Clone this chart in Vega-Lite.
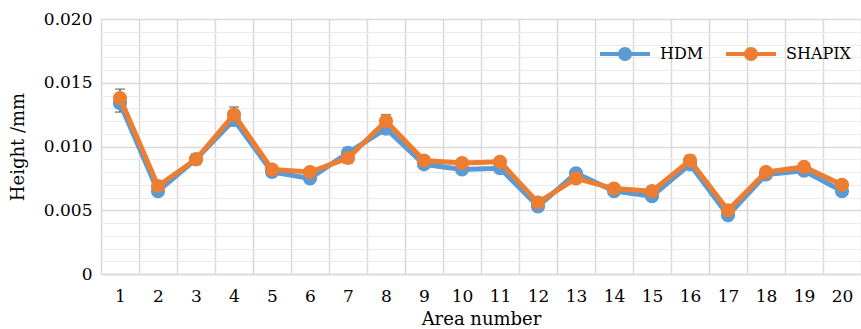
{
  "$schema": "https://vega.github.io/schema/vega-lite/v6.json",
  "width": 760,
  "height": 255,
  "autosize": {"type": "none"},
  "padding": {"left": 101, "top": 19, "right": 0, "bottom": 55},
  "background": "white",
  "config": {
    "view": {"stroke": null},
    "font": "DejaVu Serif"
  },
  "data": {
    "values": [
      {"area": 1, "series": "HDM", "value": 0.0134, "err": 0.0007},
      {"area": 2, "series": "HDM", "value": 0.0065, "err": 0.0003},
      {"area": 3, "series": "HDM", "value": 0.0090, "err": 0.0004},
      {"area": 4, "series": "HDM", "value": 0.0121, "err": 0.0005},
      {"area": 5, "series": "HDM", "value": 0.0080, "err": 0.0003},
      {"area": 6, "series": "HDM", "value": 0.0075, "err": 0.0003},
      {"area": 7, "series": "HDM", "value": 0.0095, "err": 0.0004},
      {"area": 8, "series": "HDM", "value": 0.0114, "err": 0.0004},
      {"area": 9, "series": "HDM", "value": 0.0086, "err": 0.0003},
      {"area": 10, "series": "HDM", "value": 0.0082, "err": 0.0003},
      {"area": 11, "series": "HDM", "value": 0.0083, "err": 0.0003},
      {"area": 12, "series": "HDM", "value": 0.0053, "err": 0.0003},
      {"area": 13, "series": "HDM", "value": 0.0079, "err": 0.0003},
      {"area": 14, "series": "HDM", "value": 0.0065, "err": 0.0002},
      {"area": 15, "series": "HDM", "value": 0.0061, "err": 0.0003},
      {"area": 16, "series": "HDM", "value": 0.0086, "err": 0.0003},
      {"area": 17, "series": "HDM", "value": 0.0046, "err": 0.0003},
      {"area": 18, "series": "HDM", "value": 0.0078, "err": 0.0003},
      {"area": 19, "series": "HDM", "value": 0.0081, "err": 0.0003},
      {"area": 20, "series": "HDM", "value": 0.0065, "err": 0.0003},
      {"area": 1, "series": "SHAPIX", "value": 0.0138, "err": 0.0007},
      {"area": 2, "series": "SHAPIX", "value": 0.0069, "err": 0.0003},
      {"area": 3, "series": "SHAPIX", "value": 0.0090, "err": 0.0004},
      {"area": 4, "series": "SHAPIX", "value": 0.0125, "err": 0.0006},
      {"area": 5, "series": "SHAPIX", "value": 0.0082, "err": 0.0003},
      {"area": 6, "series": "SHAPIX", "value": 0.0080, "err": 0.0003},
      {"area": 7, "series": "SHAPIX", "value": 0.0091, "err": 0.0004},
      {"area": 8, "series": "SHAPIX", "value": 0.0120, "err": 0.0005},
      {"area": 9, "series": "SHAPIX", "value": 0.0089, "err": 0.0003},
      {"area": 10, "series": "SHAPIX", "value": 0.0087, "err": 0.0003},
      {"area": 11, "series": "SHAPIX", "value": 0.0088, "err": 0.0003},
      {"area": 12, "series": "SHAPIX", "value": 0.0056, "err": 0.0003},
      {"area": 13, "series": "SHAPIX", "value": 0.0075, "err": 0.0003},
      {"area": 14, "series": "SHAPIX", "value": 0.0067, "err": 0.0002},
      {"area": 15, "series": "SHAPIX", "value": 0.0065, "err": 0.0003},
      {"area": 16, "series": "SHAPIX", "value": 0.0089, "err": 0.0004},
      {"area": 17, "series": "SHAPIX", "value": 0.0050, "err": 0.0003},
      {"area": 18, "series": "SHAPIX", "value": 0.0080, "err": 0.0003},
      {"area": 19, "series": "SHAPIX", "value": 0.0084, "err": 0.0003},
      {"area": 20, "series": "SHAPIX", "value": 0.0070, "err": 0.0003}
    ]
  },
  "encoding": {
    "x": {
      "field": "area",
      "type": "ordinal",
      "scale": {"type": "band", "paddingInner": 0, "paddingOuter": 0},
      "axis": {
        "title": "Area number",
        "titleFont": "DejaVu Serif",
        "titleFontSize": 18,
        "titleFontWeight": "normal",
        "titleColor": "black",
        "titlePadding": 6,
        "labelFont": "DejaVu Serif",
        "labelFontSize": 17,
        "labelColor": "black",
        "labelAngle": 0,
        "labelPadding": 14,
        "ticks": false,
        "tickSize": 0,
        "tickBand": "extent",
        "grid": true,
        "gridColor": "#d9d9d9",
        "gridWidth": 1.5,
        "domain": true,
        "domainColor": "#d9d9d9",
        "domainWidth": 1.5
      }
    },
    "y": {
      "field": "value",
      "type": "quantitative",
      "scale": {"domain": [0, 0.02], "nice": false, "zero": true},
      "axis": {
        "title": "Height /mm",
        "titleFont": "DejaVu Serif",
        "titleFontSize": 18,
        "titleFontWeight": "normal",
        "titleColor": "black",
        "titlePadding": 16,
        "labelFont": "DejaVu Serif",
        "labelFontSize": 17,
        "labelColor": "black",
        "labelPadding": 9,
        "ticks": false,
        "tickSize": 0,
        "domain": false,
        "values": [0, 0.001, 0.002, 0.003, 0.004, 0.005, 0.006, 0.007, 0.008, 0.009, 0.01, 0.011, 0.012, 0.013, 0.014, 0.015, 0.016, 0.017, 0.018, 0.019, 0.02],
        "labelExpr": "round(datum.value*1000) % 5 == 0 ? (datum.value == 0 ? '0' : format(datum.value, '.3f')) : ''",
        "grid": true,
        "gridColor": {"condition": {"test": "round(datum.value*1000) % 5 == 0", "value": "#d9d9d9"}, "value": "#ebebeb"},
        "gridWidth": {"condition": {"test": "round(datum.value*1000) % 5 == 0", "value": 1.5}, "value": 1.2}
      }
    }
  },
  "layer": [
    {
      "mark": {"type": "errorbar", "ticks": {"size": 10, "color": "#595959", "thickness": 1.5}, "color": "#595959", "thickness": 1.5},
      "encoding": {
        "y": {"field": "value", "type": "quantitative"},
        "yError": {"field": "err"}
      }
    },
    {
      "transform": [{"filter": "datum.series == 'HDM'"}],
      "mark": {"type": "line", "strokeWidth": 5},
      "encoding": {
        "color": {"field": "series", "type": "nominal"}
      }
    },
    {
      "transform": [{"filter": "datum.series == 'HDM'"}],
      "mark": {"type": "point", "filled": true, "size": 200, "opacity": 1},
      "encoding": {
        "color": {"field": "series", "type": "nominal"}
      }
    },
    {
      "transform": [{"filter": "datum.series == 'SHAPIX'"}],
      "mark": {"type": "line", "strokeWidth": 5},
      "encoding": {
        "color": {"field": "series", "type": "nominal"}
      }
    },
    {
      "transform": [{"filter": "datum.series == 'SHAPIX'"}],
      "mark": {"type": "point", "filled": true, "size": 200, "opacity": 1},
      "encoding": {
        "color": {
          "field": "series",
          "type": "nominal",
          "scale": {"domain": ["HDM", "SHAPIX"], "range": ["#5b9bd5", "#ed7d31"]},
          "legend": {
            "orient": "none",
            "legendX": 497,
            "legendY": 8,
            "direction": "horizontal",
            "title": null,
            "labelFont": "DejaVu Serif",
            "labelFontSize": 16,
            "labelColor": "black",
            "labelOffset": 8,
            "columnPadding": 14,
            "gridAlign": "none",
            "symbolSize": 2500,
            "symbolStrokeWidth": 4,
            "symbolType": "M-1,0L1,0M0.2,0A0.2,0.2,0,1,1,-0.2,0A0.2,0.2,0,1,1,0.2,0Z",
            "encode": {
              "symbols": {
                "update": {
                  "shape": {"value": "M-1,0L1,0M0.2,0A0.2,0.2,0,1,1,-0.2,0A0.2,0.2,0,1,1,0.2,0Z"},
                  "size": {"value": 2500},
                  "fill": {"scale": "color", "field": "value"},
                  "stroke": {"scale": "color", "field": "value"},
                  "strokeWidth": {"value": 4},
                  "opacity": {"value": 1},
                  "fillOpacity": {"value": 1}
                }
              }
            }
          }
        }
      }
    }
  ]
}
